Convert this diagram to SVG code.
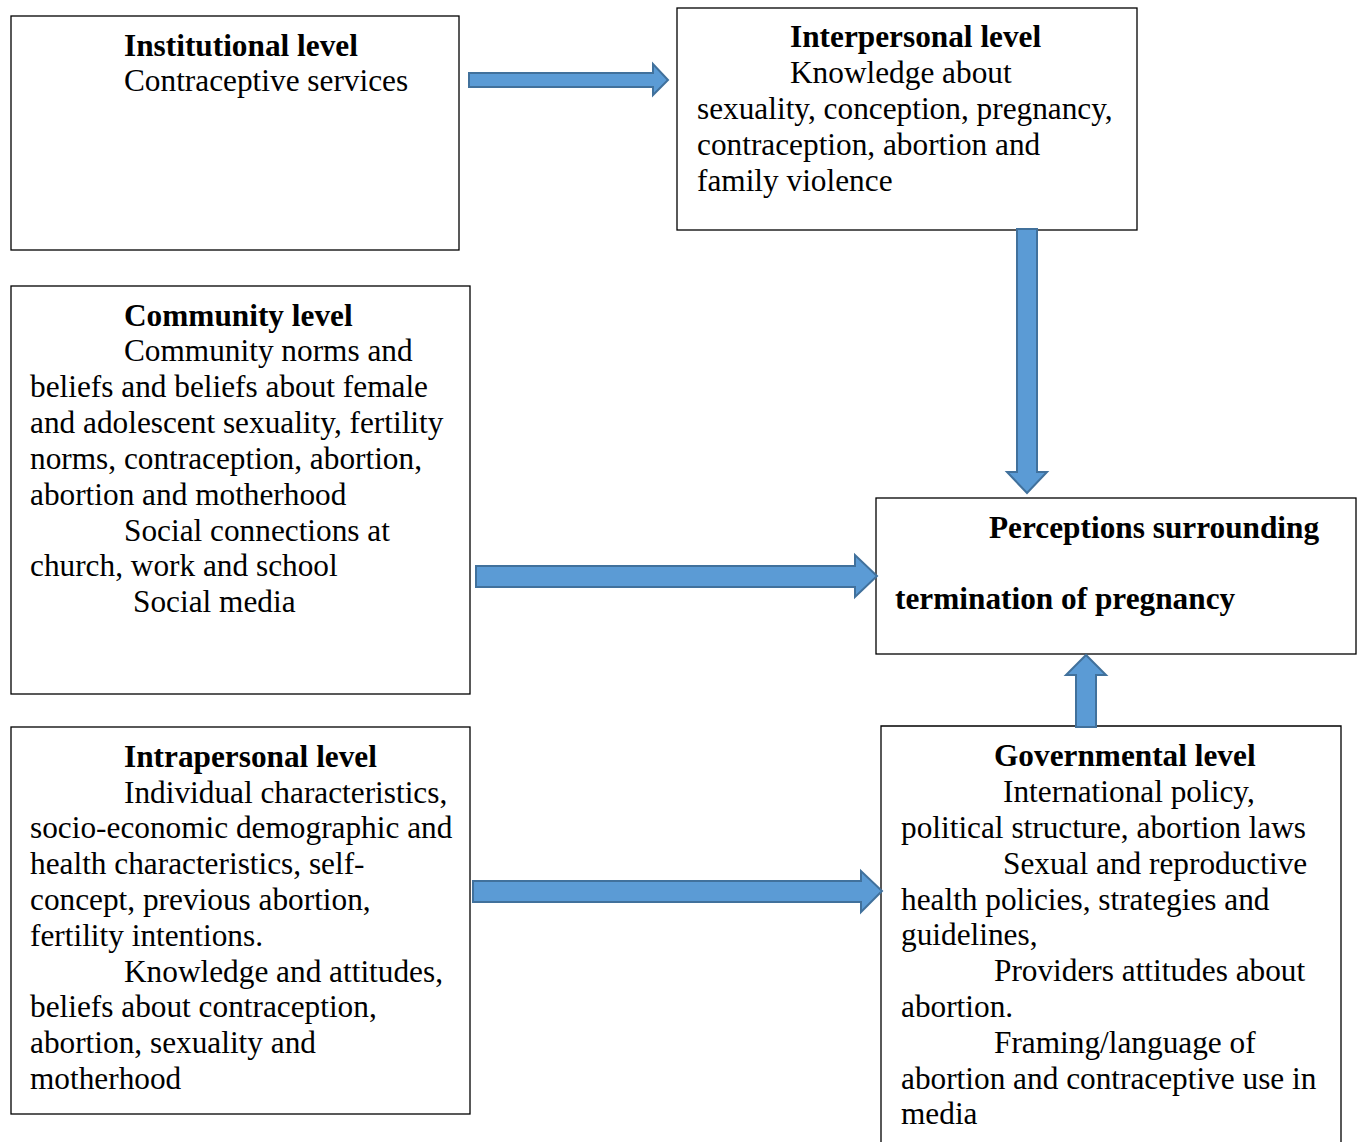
<svg xmlns="http://www.w3.org/2000/svg" width="1363" height="1142" viewBox="0 0 1363 1142">
<style>
.box{fill:#fff;stroke:#000;stroke-width:1.3}
text{font-family:"Liberation Serif","Times New Roman",serif;font-size:31.3px;fill:#000}
.b{font-weight:bold}
.arr{fill:#5B9BD5;stroke:#41719C;stroke-width:2;stroke-linejoin:miter}
</style>
<rect width="1363" height="1142" fill="#fff"/>
<g id="institutional">
<rect class="box" x="11" y="16" width="448" height="234"/>
<text class="b" x="124" y="56">Institutional level</text>
<text x="124" y="91">Contraceptive services</text>
</g>
<g id="interpersonal">
<rect class="box" x="677" y="8" width="460" height="222"/>
<text class="b" x="790" y="47">Interpersonal level</text>
<text x="790" y="83">Knowledge about</text>
<text x="697" y="119">sexuality, conception, pregnancy,</text>
<text x="697" y="155">contraception, abortion and</text>
<text x="697" y="191">family violence</text>
</g>
<g id="community">
<rect class="box" x="11" y="286" width="459" height="408"/>
<text class="b" x="124" y="326">Community level</text>
<text x="124" y="361">Community norms and</text>
<text x="30" y="397">beliefs and beliefs about female</text>
<text x="30" y="433">and adolescent sexuality, fertility</text>
<text x="30" y="469">norms, contraception, abortion,</text>
<text x="30" y="505">abortion and motherhood</text>
<text x="124" y="541">Social connections at</text>
<text x="30" y="576">church, work and school</text>
<text x="133" y="612">Social media</text>
</g>
<g id="perceptions">
<rect class="box" x="876" y="498" width="480" height="156"/>
<text class="b" x="989" y="538">Perceptions surrounding</text>
<text class="b" x="895" y="609">termination of pregnancy</text>
</g>
<g id="intrapersonal">
<rect class="box" x="11" y="727" width="459" height="387"/>
<text class="b" x="124" y="767">Intrapersonal level</text>
<text x="124" y="803">Individual characteristics,</text>
<text x="30" y="838">socio-economic demographic and</text>
<text x="30" y="874">health characteristics, self-</text>
<text x="30" y="910">concept, previous abortion,</text>
<text x="30" y="946">fertility intentions.</text>
<text x="124" y="982">Knowledge and attitudes,</text>
<text x="30" y="1017">beliefs about contraception,</text>
<text x="30" y="1053">abortion, sexuality and</text>
<text x="30" y="1089">motherhood</text>
</g>
<g id="governmental">
<path class="box" d="M881,1150 V726 H1341 V1150"/>
<text class="b" x="994" y="766">Governmental level</text>
<text x="1003" y="802">International policy,</text>
<text x="901" y="838">political structure, abortion laws</text>
<text x="1003" y="874">Sexual and reproductive</text>
<text x="901" y="910">health policies, strategies and</text>
<text x="901" y="945">guidelines,</text>
<text x="994" y="981">Providers attitudes about</text>
<text x="901" y="1017">abortion.</text>
<text x="994" y="1053">Framing/language of</text>
<text x="901" y="1089">abortion and contraceptive use in</text>
<text x="901" y="1124">media</text>
</g>
<g id="connectors">
<path class="arr" d="M469,73 H653 V64 L668,80 L653,95 V87 H469 Z"/>
<path class="arr" d="M1017,229 H1037 V472 H1047 L1027,493 L1007,472 H1017 Z"/>
<path class="arr" d="M476,566 H855 V555 L877,576 L855,597 V587 H476 Z"/>
<path class="arr" d="M1076,727 V675 H1066 L1086,655 L1106,675 H1096 V727 Z"/>
<path class="arr" d="M473,881 H861 V871 L882,891 L861,912 V902 H473 Z"/>
</g>
</svg>
